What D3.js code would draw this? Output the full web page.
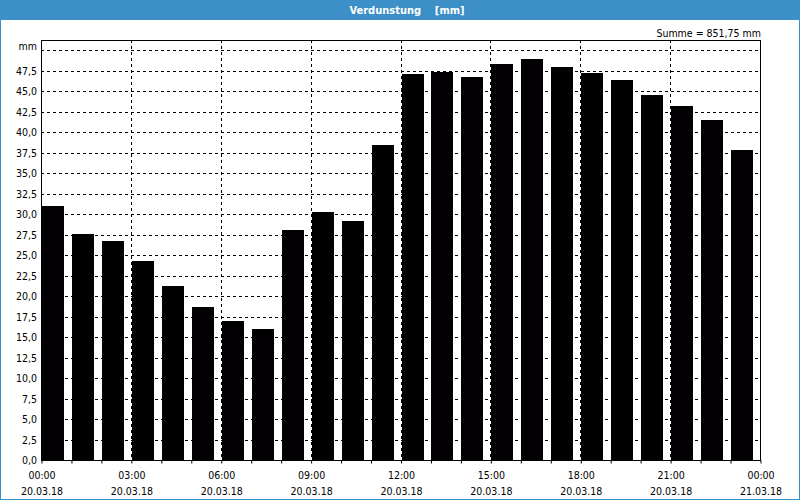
<!DOCTYPE html>
<html><head><meta charset="utf-8">
<script src="https://cdn.jsdelivr.net/npm/d3@7"></script>
<style>body{margin:0;background:#fff}svg{display:block}text{font-family:Tahoma,"DejaVu Sans Condensed","Liberation Sans",sans-serif;font-size:10.5px}</style>
</head><body><svg id="c" width="800" height="500"></svg>
<script>
const title = "Verdunstung    [mm]";
const sumLabel = "Summe = 851,75 mm";
const unitLabel = "mm";
const hours = d3.range(24);
const values = [31.0,27.6,26.7,24.3,21.2,18.7,17.0,16.0,28.0,30.2,29.1,38.4,47.1,47.3,46.7,48.3,48.9,47.9,47.2,46.3,44.5,43.2,41.5,37.8];
const yTicks = [0,2.5,5,7.5,10,12.5,15,17.5,20,22.5,25,27.5,30,32.5,35,37.5,40,42.5,45,47.5];
const gridTop = 50;
const xLabelHours = [0,3,6,9,12,15,18,21,24];
const xTimeLabels = ["00:00","03:00","06:00","09:00","12:00","15:00","18:00","21:00","00:00"];
const xDateLabels = ["20.03.18","20.03.18","20.03.18","20.03.18","20.03.18","20.03.18","20.03.18","20.03.18","21.03.18"];

const svg = d3.select("#c");
const W=800,H=500,L=41,R=760,T=40,B=460;
const blue="#3c8fc7";
svg.append("rect").attr("x",0).attr("y",0).attr("width",W).attr("height",H).attr("fill","#fff");
svg.append("rect").attr("x",0.5).attr("y",0.5).attr("width",W-1).attr("height",H-1).attr("fill","none").attr("stroke",blue);
svg.append("rect").attr("x",0).attr("y",0).attr("width",W).attr("height",20).attr("fill",blue);
svg.append("text").attr("x",407).attr("y",14).attr("text-anchor","middle").attr("fill","#fff").attr("font-weight","bold").style("font-size","11px").style("white-space","pre").attr("xml:space","preserve").text(title);
svg.append("text").attr("x",761).attr("y",37).attr("text-anchor","end").attr("fill","#000").text(sumLabel);

const x = d3.scaleLinear().domain([0,24]).range([L,R]);
const y = d3.scaleLinear().domain([0,51.22]).range([B,T]);

const g = svg.append("g").attr("stroke","#000").attr("stroke-dasharray","3,3").attr("stroke-width",1);
yTicks.filter(v=>v>0).concat([gridTop]).forEach(v=>{
  const yy=Math.round(y(v))+0.5;
  g.append("line").attr("x1",L).attr("x2",R).attr("y1",yy).attr("y2",yy);
});
xLabelHours.filter(h=>h>0&&h<24).forEach(h=>{
  const xx=Math.round(x(h))+0.5;
  g.append("line").attr("x1",xx).attr("x2",xx).attr("y1",T).attr("y2",B);
});

svg.append("g").selectAll("rect").data(values).join("rect")
  .attr("x",(d,i)=>Math.round(x(hours[i]))+1)
  .attr("width",22)
  .attr("y",d=>Math.round(y(d)))
  .attr("height",d=>B-Math.round(y(d)))
  .attr("fill","#030003");

svg.append("rect").attr("x",L+0.5).attr("y",T+0.5).attr("width",R-L).attr("height",B-T).attr("fill","none").attr("stroke","#000");

const xa = d3.axisBottom(x).tickValues(d3.range(25)).tickSize(3).tickFormat("");
svg.append("g").attr("transform",`translate(0.5,${B+0.5})`).call(xa).call(s=>s.select(".domain").remove()).selectAll("line").attr("stroke","#000");
xLabelHours.forEach((h,i)=>{
  svg.append("text").attr("x",x(h)+1).attr("y",479).attr("text-anchor","middle").text(xTimeLabels[i]);
  svg.append("text").attr("x",x(h)+1).attr("y",495).attr("text-anchor","middle").text(xDateLabels[i]);
});
const fmt = v=>d3.format(".1f")(v).replace(".",",");
yTicks.forEach(v=>{
  svg.append("text").attr("x",37).attr("y",y(v)+4).attr("text-anchor","end").text(fmt(v));
});
svg.append("text").attr("x",37).attr("y",50).attr("text-anchor","end").text(unitLabel);
</script></body></html>
